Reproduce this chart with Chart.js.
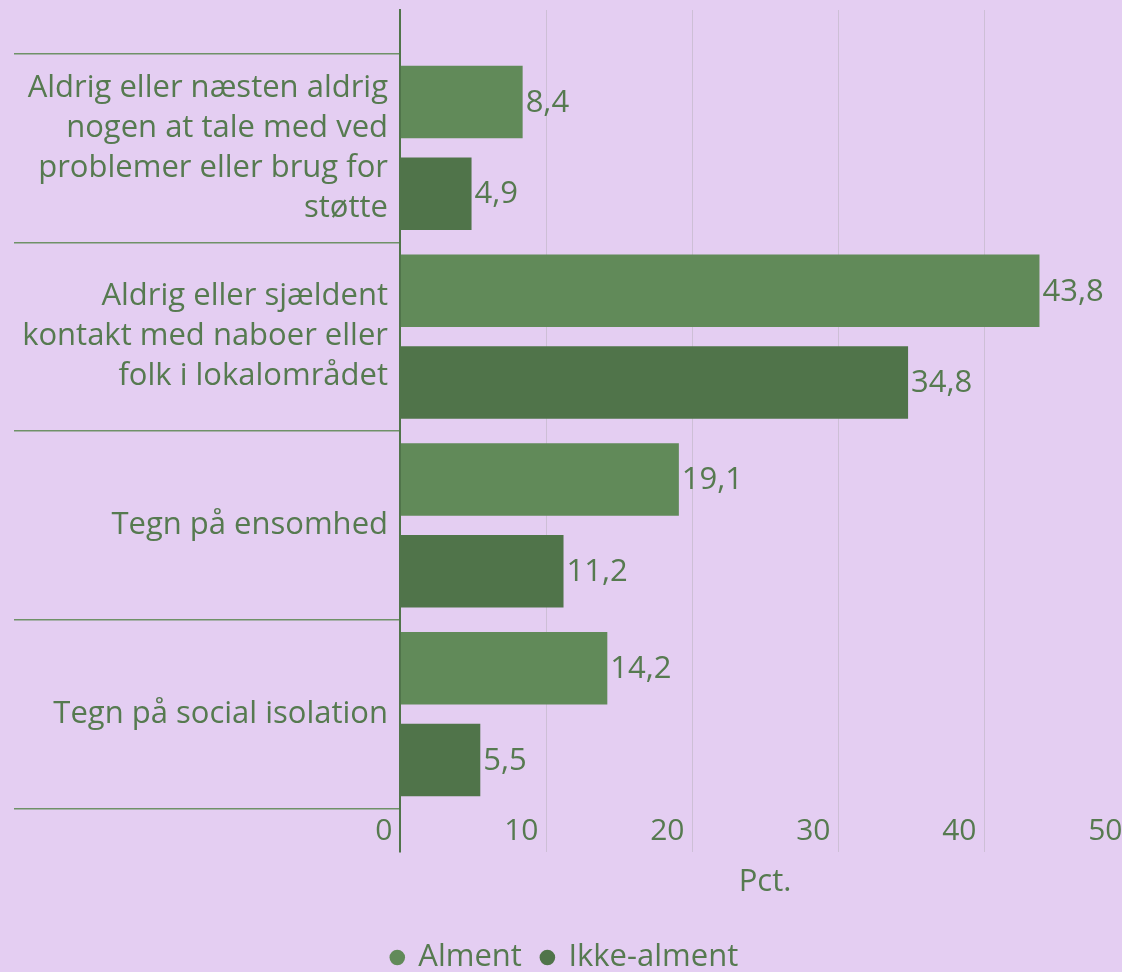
<!DOCTYPE html>
<html>
<head>
<meta charset="utf-8">
<script src="https://cdn.jsdelivr.net/npm/chart.js@4.4.1/dist/chart.umd.min.js"></script>
<style>
  html, body { margin: 0; padding: 0; background: #e4cef2; overflow: hidden; }
  #wrap { width: 1122px; height: 972px; overflow: hidden; position: relative; }
  #wrap canvas { position: absolute; left: 0; top: 0; }
</style>
</head>
<body>
<div id="wrap"><canvas id="myChart" width="1140" height="983" style="width:1140px;height:983px"></canvas></div>
<script>
const categories = [
  ['Aldrig eller næsten aldrig', 'nogen at tale med ved', 'problemer eller brug for', 'støtte'],
  ['Aldrig eller sjældent', 'kontakt med naboer eller', 'folk i lokalområdet'],
  ['Tegn på ensomhed'],
  ['Tegn på social isolation']
]
const seriesNames = ['Alment', 'Ikke-alment']
const alment = [8.4, 43.8, 19.1, 14.2]
const ikkeAlment = [4.9, 34.8, 11.2, 5.5]
const xMin = 0
const xMax = 50
const xStep = 10
const xTitle = 'Pct.'

const textColor = '#567a50'
const lightGreen = '#618a59'
const darkGreen = '#50744a'
const gridColor = '#cdbfd6'
const sepColor = '#6f9168'
const fontFamily = '"Open Sans", Lato, sans-serif'
const fontSize = 31

Chart.defaults.font.family = fontFamily
Chart.defaults.color = textColor

// value next to each bar, danish decimal comma
const valueLabels = {
  id: 'valueLabels',
  afterDatasetsDraw(chart) {
    const ctx = chart.ctx
    ctx.save()
    ctx.font = fontSize + 'px ' + fontFamily
    ctx.fillStyle = textColor
    ctx.textBaseline = 'middle'
    ctx.textAlign = 'left'
    chart.data.datasets.forEach((ds, i) => {
      chart.getDatasetMeta(i).data.forEach((bar, j) => {
        ctx.fillText(ds.data[j].toFixed(1).replace('.', ','), bar.x + 3, bar.y + 1)
      })
    })
    ctx.restore()
  }
}

const chart = new Chart(document.getElementById('myChart').getContext('2d'), {
  type: 'bar',
  data: {
    labels: categories,
    datasets: [{
      label: seriesNames[0],
      data: alment,
      backgroundColor: lightGreen,
      categoryPercentage: 0.97,
      barPercentage: 0.792
    }, {
      label: seriesNames[1],
      data: ikkeAlment,
      backgroundColor: darkGreen,
      categoryPercentage: 0.97,
      barPercentage: 0.792
    }]
  },
  options: {
    indexAxis: 'y',
    responsive: false,
    animation: false,
    layout: { padding: { top: 10, right: 10, left: 0, bottom: 0 } },
    scales: {
      x: {
        min: xMin,
        max: xMax,
        border: { display: false },
        grid: {
          drawTicks: false,
          color: c => (c.tick && c.tick.value === 0 ? 'rgba(0,0,0,0)' : gridColor),
          lineWidth: 1
        },
        ticks: {
          stepSize: xStep,
          align: 'end',
          mirror: true,
          padding: 3,
          color: textColor,
          font: { size: 30 },
          callback: v => v + '\u2005'
        },
        title: {
          display: true,
          text: xTitle,
          color: textColor,
          font: { size: fontSize, lineHeight: 1.2 },
          padding: { top: 0, bottom: 21 }
        },
        afterFit: s => { s.height = 70 }
      },
      y: {
        border: { color: darkGreen, width: 2, z: 1 },
        grid: {
          offset: true,
          drawOnChartArea: false,
          drawTicks: true,
          tickLength: 386,
          tickColor: sepColor,
          color: sepColor,
          lineWidth: 1.5
        },
        ticks: {
          padding: 12 - 386,
          color: textColor,
          font: { size: fontSize, lineHeight: '40px' }
        },
        afterFit: s => { s.width = 400 },
        // leave some room above first and below last category
        afterBuildTicks: s => {
          const pad = 0.7305
          s._startValue = -pad
          s._valueRange = (s.ticks.length - 1) + 2 * pad
        }
      }
    },
    plugins: {
      legend: {
        position: 'bottom',
        labels: {
          usePointStyle: true,
          pointStyle: 'circle',
          boxWidth: 11,
          boxHeight: 11,
          padding: 20,
          color: textColor,
          font: { size: fontSize }
        }
      },
      tooltip: { enabled: false }
    }
  },
  plugins: [valueLabels]
})
</script>
</body>
</html>
